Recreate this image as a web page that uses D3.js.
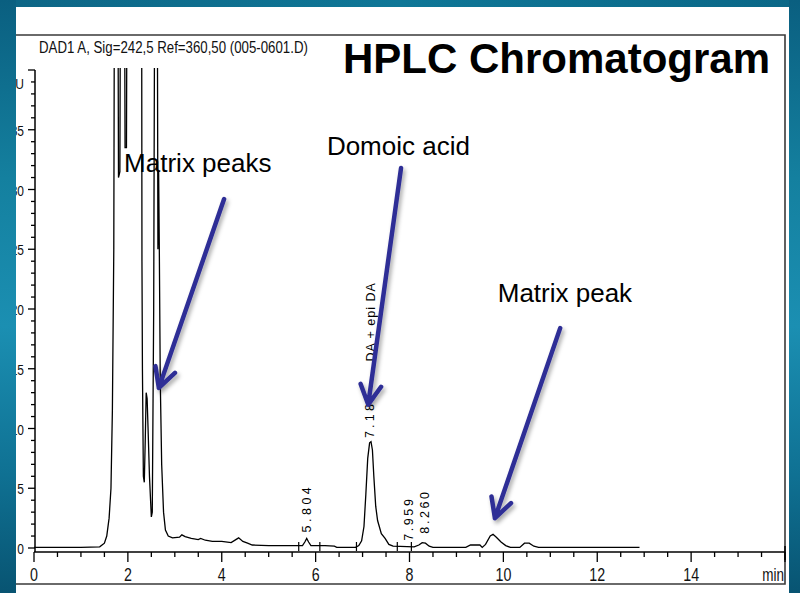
<!DOCTYPE html>
<html lang="en">
<head>
<meta charset="utf-8">
<title>HPLC Chromatogram</title>
<script src="https://d3js.org/d3.v7.min.js"></script>
<style>
  body { margin: 0; background: #0d6b8c; }
  svg { display: block; font-family: "Liberation Sans", Arial, sans-serif; }
</style>
</head>
<body>
<div id="chart"></div>
<script>

// retention time (min) and absorbance (mAU), > 40 is off-scale
var times = [0, 1.0, 1.4, 1.5, 1.55, 1.6, 1.64, 1.67, 1.70, 1.72, 1.78, 1.80, 1.83, 1.85, 1.92, 1.94, 1.97, 1.99,
  2.29, 2.30, 2.31, 2.33, 2.35, 2.37, 2.39, 2.41, 2.43, 2.46, 2.50, 2.52, 2.55, 2.58, 2.62, 2.64, 2.655, 2.67,
  2.69, 2.72, 2.76, 2.80, 2.86, 2.95, 3.1, 3.15, 3.22, 3.35, 3.5, 3.55, 3.65, 3.8, 4.0, 4.2, 4.3, 4.36, 4.45,
  4.55, 4.65, 5.0, 5.5, 5.72, 5.77, 5.81, 5.85, 5.90, 6.2, 6.4, 6.45, 6.85, 6.92, 6.98, 7.03, 7.07, 7.11, 7.15,
  7.18, 7.21, 7.24, 7.28, 7.32, 7.40, 7.48, 7.56, 7.65, 8.1, 8.2, 8.27, 8.34, 8.42, 8.5, 9.2, 9.3, 9.5, 9.55,
  9.62, 9.72, 9.78, 9.85, 9.95, 10.05, 10.15, 10.35, 10.45, 10.55, 10.65, 10.75, 12.9];
var signal = [0.05, 0.05, 0.1, 0.4, 1.0, 2.5, 5, 11.5, 25, 60, 60, 31, 31.5, 60, 60, 33.5, 33.5, 60,
  60, 24, 15, 6, 5.5, 9, 13, 12.5, 10, 6, 2.6, 3, 20, 60, 60, 25, 31.5, 25,
  14, 7, 3, 1.5, 1.0, 0.85, 0.9, 1.1, 0.95, 0.8, 0.7, 0.8, 0.65, 0.55, 0.55, 0.45, 0.7, 0.85, 0.55,
  0.4, 0.25, 0.2, 0.2, 0.2, 0.5, 0.8, 0.5, 0.2, 0.2, 0.15, 0.05, 0.05, 0.2, 0.6, 1.8, 4.5, 7.5, 8.8,
  8.9, 8.2, 6, 3.5, 2.3, 1.2, 0.8, 0.3, 0.15, 0.1, 0.25, 0.45, 0.4, 0.15, 0.05, 0.05, 0.25, 0.25, 0.05,
  0.3, 1.0, 1.15, 0.9, 0.5, 0.2, 0.05, 0.05, 0.4, 0.4, 0.15, 0.05, 0.05];

var xTicks = [0, 2, 4, 6, 8, 10, 12, 14];
var yTicks = [0, 5, 10, 15, 20, 25, 30, 35];

// integration start/stop marks
var intEvents = [5.64, 6.09, 6.87, 7.74, 8.04];

// rotated peak labels: text, time, bottom of text (mAU)
var peakNames = ["5.804", "7.18", "DA + epi DA", "7.959", "8.260"];
var peakTimes = [5.81, 7.14, 7.18, 7.98, 8.32];
var peakBottoms = [1.3, 9.2, 15.6, 0.6, 1.2];
var peakSpacing = [3.5, 3.2, 1, 2.6, 2.6];

// slide annotations and arrows (in chart units)
var notes = ["Matrix peaks", "Domoic acid", "Matrix peak"];
var noteTimes = [1.92, 6.24, 9.88];
var noteValues = [31.5, 32.9, 20.6];
var arrowFrom = [[4.05, 29.2], [7.82, 31.8], [11.21, 18.4]];
var arrowTo = [[2.66, 13.4], [7.12, 12.0], [9.82, 2.5]];

var W = 800, H = 593;

var svg = d3.select("#chart").append("svg")
  .attr("width", W)
  .attr("height", H);

var defs = svg.append("defs");

var gl = defs.append("linearGradient").attr("id", "sideBlue")
  .attr("x1", 0).attr("y1", 0).attr("x2", 0).attr("y2", 1);
gl.append("stop").attr("offset", "0%").attr("stop-color", "#0a5f80");
gl.append("stop").attr("offset", "30%").attr("stop-color", "#14809f");
gl.append("stop").attr("offset", "55%").attr("stop-color", "#1b8fb2");
gl.append("stop").attr("offset", "80%").attr("stop-color", "#0f7193");
gl.append("stop").attr("offset", "100%").attr("stop-color", "#085472");

var gt = defs.append("linearGradient").attr("id", "topBlue")
  .attr("x1", 0).attr("y1", 0).attr("x2", 1).attr("y2", 0);
gt.append("stop").attr("offset", "0%").attr("stop-color", "#0d6585");
gt.append("stop").attr("offset", "50%").attr("stop-color", "#0f7797");
gt.append("stop").attr("offset", "100%").attr("stop-color", "#0a6787");

var shadow = defs.append("filter").attr("id", "shadow")
  .attr("x", "-30%").attr("y", "-30%").attr("width", "160%").attr("height", "160%");
shadow.append("feDropShadow")
  .attr("dx", 2).attr("dy", 3).attr("stdDeviation", 2)
  .attr("flood-color", "#000").attr("flood-opacity", 0.35);

defs.append("clipPath").attr("id", "plotClip")
  .append("rect").attr("x", 30).attr("y", 68).attr("width", 760).attr("height", 500);

// white slide area
svg.append("rect").attr("x", 0).attr("y", 0).attr("width", W).attr("height", H).attr("fill", "#fff");

// scales
var x = d3.scaleLinear().domain([0, 16]).range([34, 785]);
var y = d3.scaleLinear().domain([0, 40]).range([548, 70]);

// picture frame of the chromatogram
svg.append("path")
  .attr("d", "M0,35H785V584H0")
  .attr("fill", "none")
  .attr("stroke", "#3a3a3a")
  .attr("stroke-width", 1.6);

// narrow report font: a normal font squeezed sideways
function narrow(parent, px, py, k, size, anchor, txt) {
  var g = parent.append("g")
    .attr("transform", "translate(" + px + "," + py + ") scale(" + k + ",1)");
  g.append("text")
    .attr("text-anchor", anchor)
    .attr("font-size", size)
    .attr("fill", "#111")
    .text(txt);
  return g;
}

// header line of the Agilent report
narrow(svg, 39, 53, 0.78, 17, "start", "DAD1 A, Sig=242,5 Ref=360,50 (005-0601.D)");

// X axis
var xAxisY = y(0) + 4;
var xAxis = svg.append("g").attr("transform", "translate(0," + xAxisY + ")");
xAxis.append("line")
  .attr("x1", x(0)).attr("x2", x(16))
  .attr("stroke", "#000").attr("stroke-width", 1.5);
xAxis.selectAll(".minor")
  .data(d3.range(0, 16.01, 0.5))
  .enter().append("line")
    .attr("x1", function(d) { return x(d); })
    .attr("x2", function(d) { return x(d); })
    .attr("y1", 0)
    .attr("y2", function(d) { return d % 2 === 0 ? 10 : 5; })
    .attr("stroke", "#000").attr("stroke-width", 1.3);
xAxis.append("line")
  .attr("x1", x(16)).attr("x2", x(16))
  .attr("y1", -6).attr("y2", 8)
  .attr("stroke", "#000").attr("stroke-width", 1.5);
xTicks.forEach(function(d) {
  narrow(xAxis, x(d), 29, 0.75, 19, "middle", d);
});
narrow(xAxis, 784, 29, 0.75, 18, "end", "min");

// Y axis
var yAxis = svg.append("g");
yAxis.append("line")
  .attr("x1", 35).attr("x2", 35)
  .attr("y1", y(40)).attr("y2", xAxisY)
  .attr("stroke", "#000").attr("stroke-width", 1.5);
yAxis.selectAll(".yt")
  .data(d3.range(0, 40.01, 1))
  .enter().append("line")
    .attr("x1", function(d) { return d % 5 === 0 ? 28 : 31; })
    .attr("x2", 35)
    .attr("y1", function(d) { return y(d); })
    .attr("y2", function(d) { return y(d); })
    .attr("stroke", "#000").attr("stroke-width", 1.3);
yTicks.forEach(function(d) {
  narrow(yAxis, 24, y(d) + 6, 0.8, 15, "end", d);
});
narrow(yAxis, 24, y(40) + 19, 0.8, 15, "end", "mAU");

// the trace
var pts = times.map(function(t, i) { return [t, signal[i]]; });
var line = d3.line()
  .x(function(d) { return x(d[0]); })
  .y(function(d) { return y(d[1]); });

svg.append("path")
  .datum(pts)
  .attr("clip-path", "url(#plotClip)")
  .attr("d", line)
  .attr("fill", "none")
  .attr("stroke", "#000")
  .attr("stroke-width", 1.3);

// integration marks
svg.selectAll(".ev")
  .data(intEvents)
  .enter().append("line")
    .attr("x1", function(d) { return x(d); })
    .attr("x2", function(d) { return x(d); })
    .attr("y1", y(0) - 6)
    .attr("y2", y(0) + 3)
    .attr("stroke", "#000").attr("stroke-width", 1.2);

// rotated peak labels
svg.selectAll(".pk")
  .data(peakNames)
  .enter().append("text")
    .attr("transform", function(d, i) {
      return "translate(" + x(peakTimes[i]) + "," + y(peakBottoms[i]) + ") rotate(-90)";
    })
    .attr("dy", "0.35em")
    .attr("font-size", 12.5)
    .attr("letter-spacing", function(d, i) { return peakSpacing[i]; })
    .text(function(d) { return d; });

// title
svg.append("text")
  .attr("x", 343).attr("y", 73)
  .attr("font-size", 42)
  .attr("font-weight", "bold")
  .text("HPLC Chromatogram");

// annotations
svg.selectAll(".note")
  .data(notes)
  .enter().append("text")
    .attr("x", function(d, i) { return x(noteTimes[i]); })
    .attr("y", function(d, i) { return y(noteValues[i]); })
    .attr("font-size", 26)
    .text(function(d) { return d; });

// arrows
var arrows = svg.append("g")
  .attr("filter", "url(#shadow)")
  .attr("stroke", "#2f2f96")
  .attr("stroke-width", 4.5)
  .attr("fill", "none")
  .attr("stroke-linecap", "round")
  .attr("stroke-linejoin", "round");

arrowFrom.forEach(function(f, i) {
  var x0 = x(f[0]), y0 = y(f[1]);
  var x1 = x(arrowTo[i][0]), y1 = y(arrowTo[i][1]);
  var ang = Math.atan2(y0 - y1, x0 - x1);
  var len = 22, spread = 28 * Math.PI / 180;
  var wa = [ang - spread, ang + spread].map(function(a) {
    return [x1 + len * Math.cos(a), y1 + len * Math.sin(a)];
  });
  arrows.append("path")
    .attr("d", "M" + x0 + "," + y0 + "L" + x1 + "," + y1 +
      "M" + wa[0][0] + "," + wa[0][1] + "L" + x1 + "," + y1 + "L" + wa[1][0] + "," + wa[1][1]);
});

// blue slide background around the picture
svg.append("rect").attr("x", 0).attr("y", 0).attr("width", W).attr("height", 7).attr("fill", "url(#topBlue)");
svg.append("rect").attr("x", 0).attr("y", 0).attr("width", 16).attr("height", H).attr("fill", "url(#sideBlue)");
svg.append("rect").attr("x", 789).attr("y", 0).attr("width", 11).attr("height", H).attr("fill", "url(#sideBlue)");

</script>
</body>
</html>
